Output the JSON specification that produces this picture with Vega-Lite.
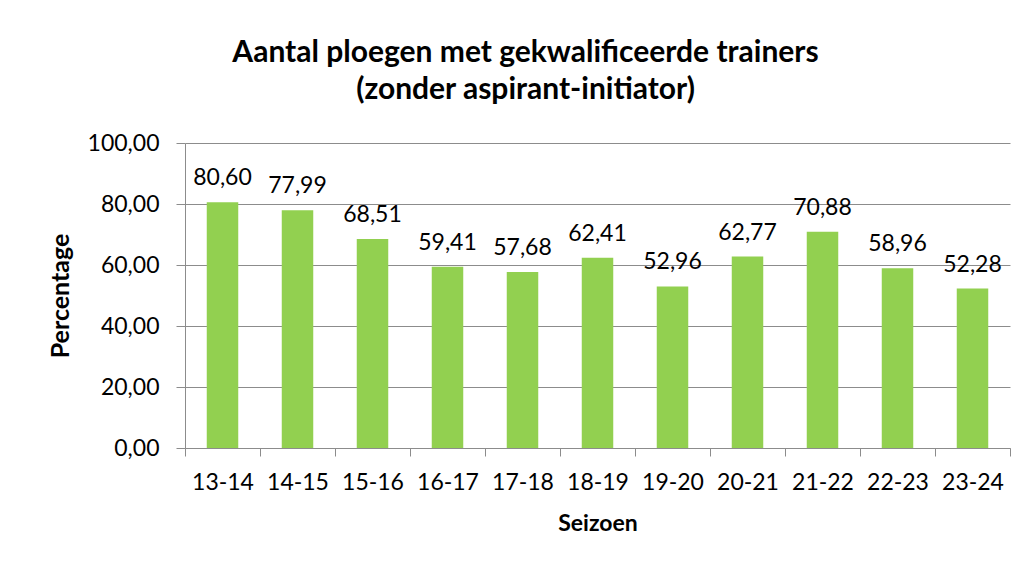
{
  "$schema": "https://vega.github.io/schema/vega-lite/v6.json",
  "autosize": "none",
  "width": 825,
  "height": 305,
  "padding": {"left": 185, "top": 143, "right": 20, "bottom": 116},
  "background": "white",
  "title": {
    "text": ["Aantal ploegen met gekwalificeerde trainers", "(zonder aspirant-initiator)"],
    "font": "Lato",
    "fontSize": 30,
    "fontWeight": "bold",
    "color": "#000000",
    "lineHeight": 37,
    "anchor": "middle",
    "dx": -72,
    "offset": 27
  },
  "data": {
    "values": [
      {"seizoen": "13-14", "pct": 80.60},
      {"seizoen": "14-15", "pct": 77.99},
      {"seizoen": "15-16", "pct": 68.51},
      {"seizoen": "16-17", "pct": 59.41},
      {"seizoen": "17-18", "pct": 57.68},
      {"seizoen": "18-19", "pct": 62.41},
      {"seizoen": "19-20", "pct": 52.96},
      {"seizoen": "20-21", "pct": 62.77},
      {"seizoen": "21-22", "pct": 70.88},
      {"seizoen": "22-23", "pct": 58.96},
      {"seizoen": "23-24", "pct": 52.28}
    ]
  },
  "encoding": {
    "x": {
      "field": "seizoen",
      "type": "nominal",
      "sort": null,
      "scale": {"paddingInner": 0, "paddingOuter": 0},
      "axis": {
        "title": "Seizoen",
        "titleFont": "Lato",
        "titleFontSize": 23,
        "titleFontWeight": "bold",
        "titleColor": "#000000",
        "titlePadding": 18,
        "labelAngle": 0,
        "labelFont": "Lato",
        "labelFontSize": 23,
        "labelColor": "#000000",
        "labelPadding": 15,
        "tickBand": "extent",
        "tickSize": 8,
        "tickColor": "#8c8c8c",
        "domainColor": "#8c8c8c",
        "grid": false
      }
    },
    "y": {
      "field": "pct",
      "type": "quantitative",
      "scale": {"domain": [0, 100], "nice": false},
      "axis": {
        "title": "Percentage",
        "titleFont": "Lato",
        "titleFontSize": 25,
        "titleFontWeight": "bold",
        "titleColor": "#000000",
        "titlePadding": 14,
        "values": [0, 20, 40, 60, 80, 100],
        "format": ".2f",
        "labelFont": "Lato",
        "labelFontSize": 23,
        "labelColor": "#000000",
        "labelPadding": 17,
        "tickSize": 9,
        "tickColor": "#8c8c8c",
        "domainColor": "#8c8c8c",
        "gridColor": "#8c8c8c",
        "grid": true
      }
    }
  },
  "layer": [
    {
      "mark": {"type": "bar", "color": "#92D050", "width": {"band": 0.42}}
    },
    {
      "mark": {"type": "text", "baseline": "alphabetic", "dy": -17, "font": "Lato", "fontSize": 23, "color": "#000000"},
      "encoding": {
        "text": {"field": "pct", "type": "quantitative", "format": ".2f"}
      }
    }
  ],
  "config": {
    "locale": {
      "number": {"decimal": ",", "thousands": ".", "grouping": [3], "currency": ["€", ""]}
    },
    "view": {"stroke": null}
  }
}
